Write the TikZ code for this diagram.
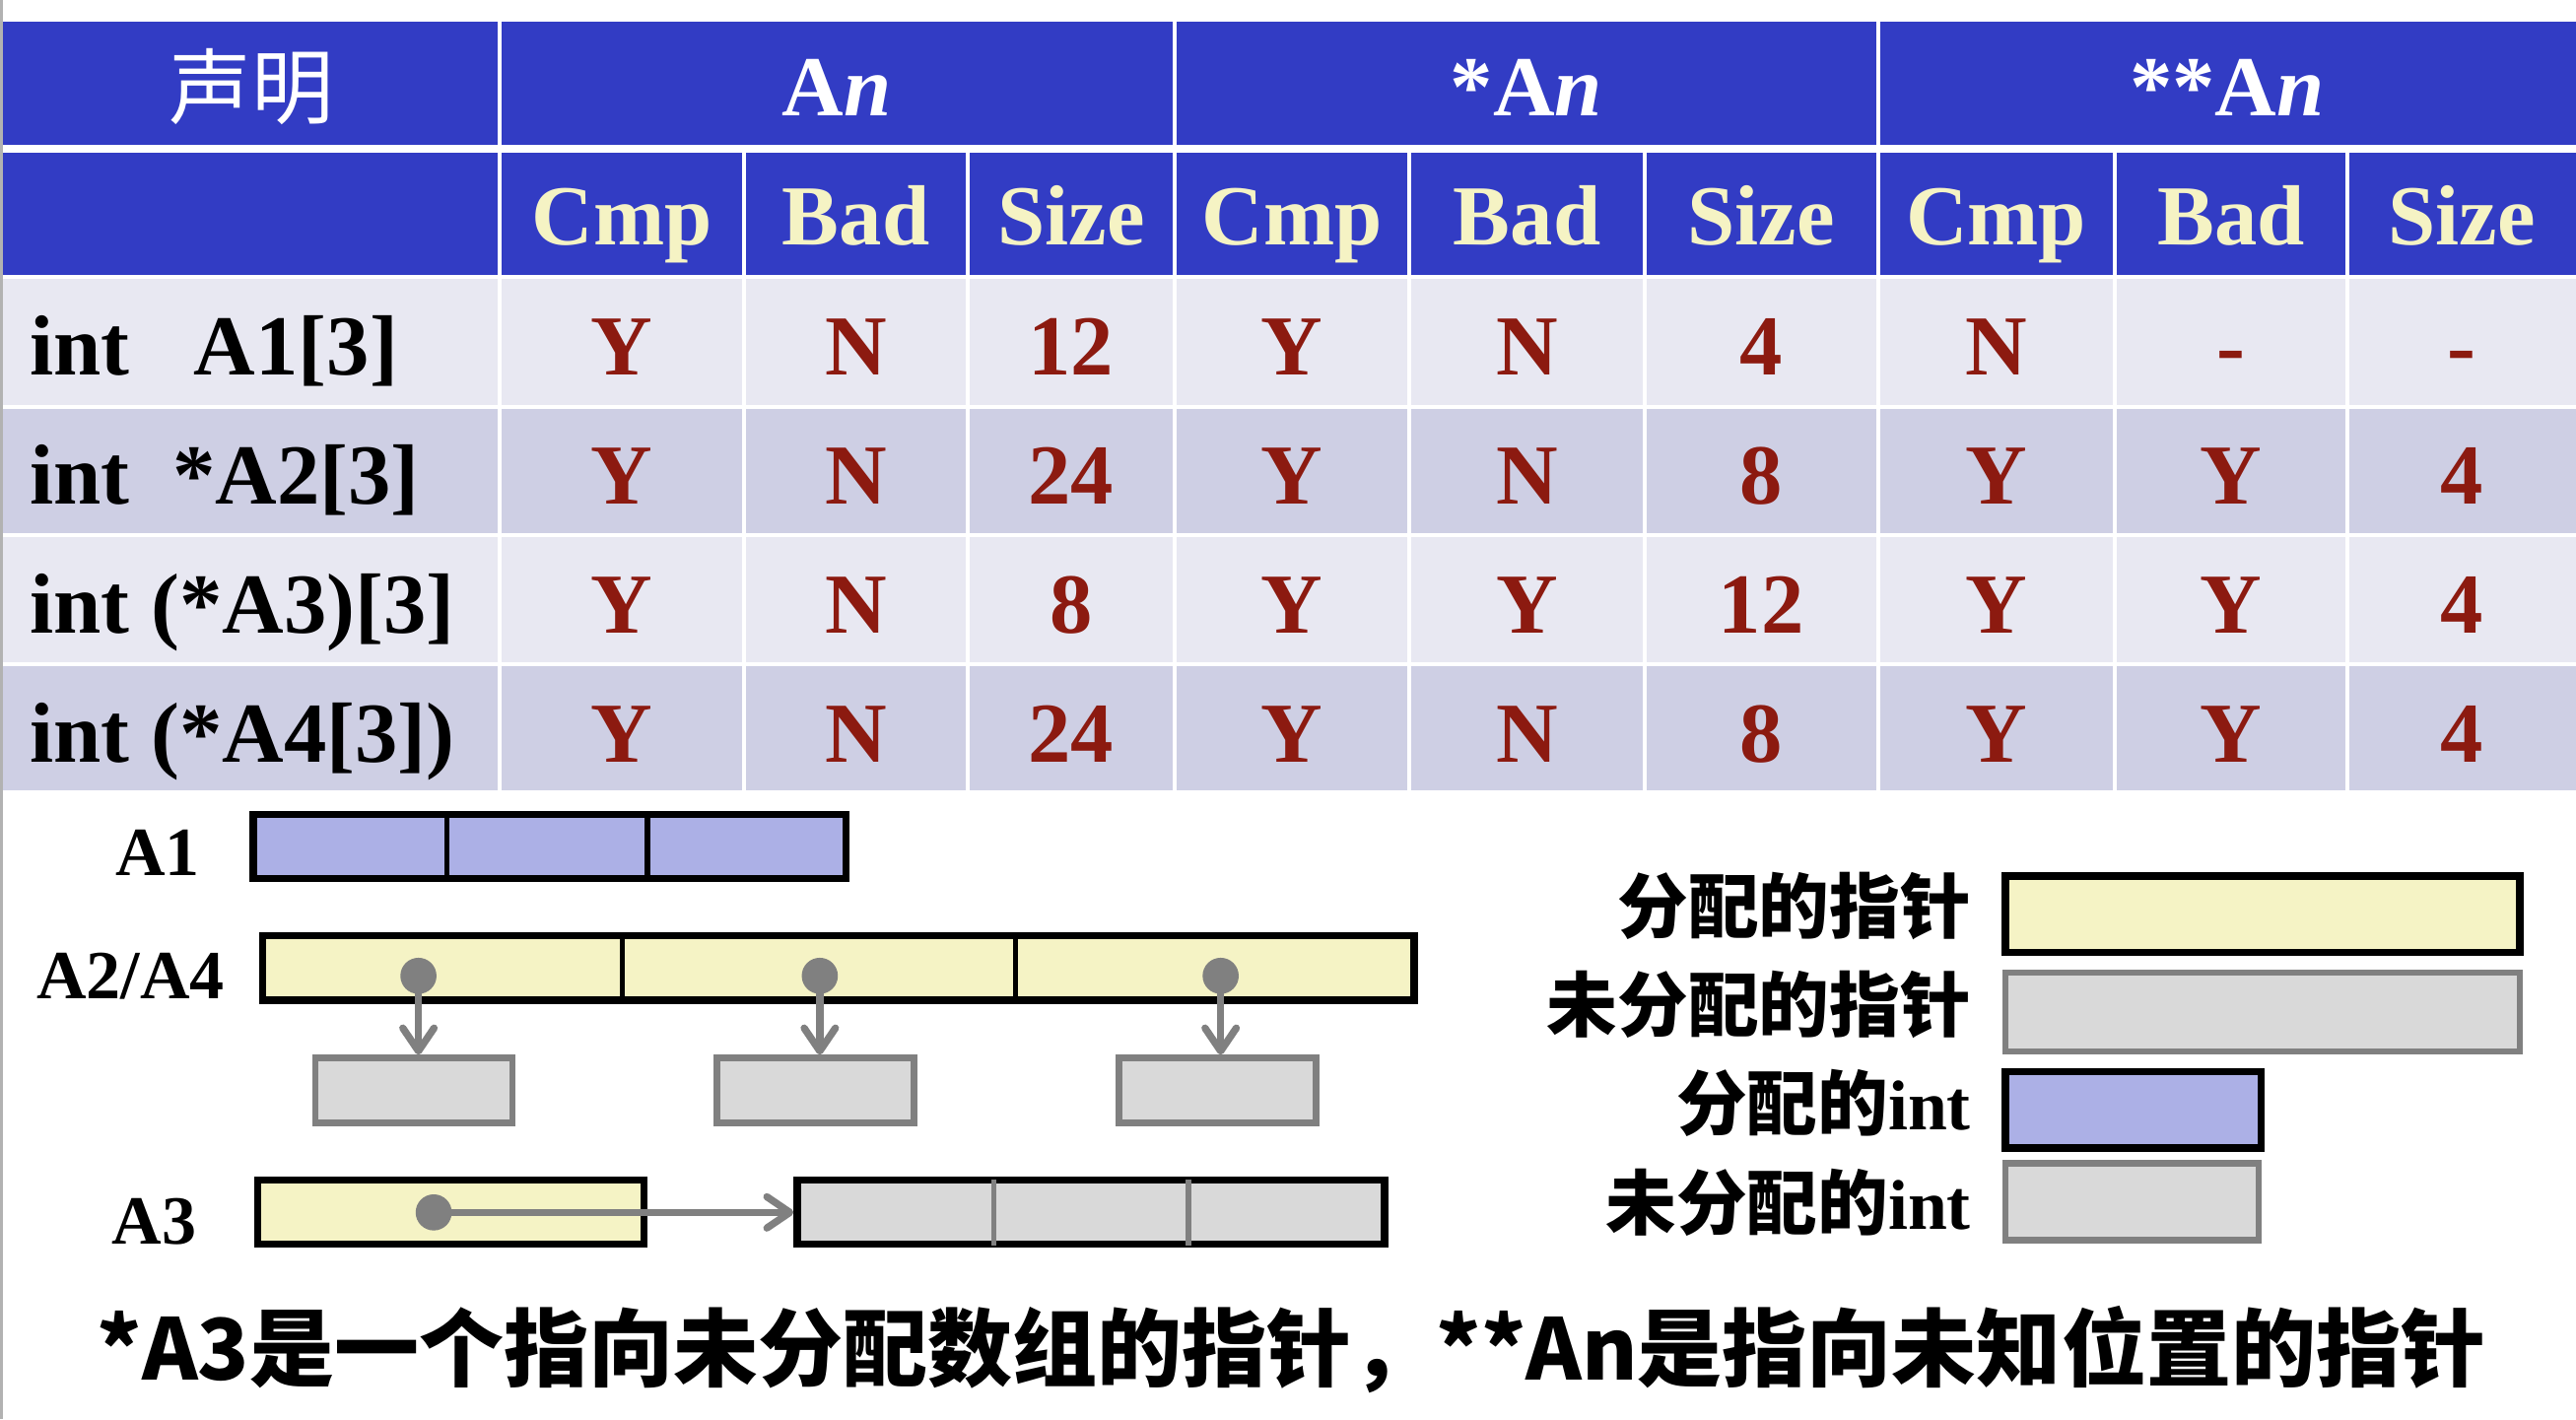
\documentclass[tikz,border=0pt]{standalone}
\usepackage{fontspec}
\setmainfont{Liberation Serif}
\newfontfamily\cjk{Noto Sans CJK SC}
\usetikzlibrary{arrows.meta}

\definecolor{hdrBlue}{RGB}{50,60,196}
\definecolor{creamText}{RGB}{245,243,196}
\definecolor{valRed}{RGB}{140,26,16}
\definecolor{rowLight}{RGB}{232,232,242}
\definecolor{rowDark}{RGB}{206,207,228}
\definecolor{intFill}{RGB}{172,176,230}
\definecolor{ptrFill}{RGB}{245,243,197}
\definecolor{freeFill}{RGB}{217,217,217}
\definecolor{freeLine}{RGB}{128,128,128}

\tikzset{
  tabtxt/.style={anchor=base, inner sep=0, font=\fontsize{26}{30}\selectfont\bfseries},
  grptxt/.style={tabtxt, text=white},
  subtxt/.style={tabtxt, text=creamText},
  valtxt/.style={tabtxt, text=valRed},
  decltxt/.style={tabtxt, anchor=base west},
  cellsep/.style={white, line width=1.2pt},
  arrbox/.style={draw=black, line width=2.2pt, inner sep=0},
  intbox/.style={arrbox, fill=intFill},
  ptrbox/.style={arrbox, fill=ptrFill},
  freebox/.style={draw=freeLine, fill=freeFill, line width=2pt, inner sep=0},
  divider/.style={line width=1.6pt},
  ptrdot/.style={circle, fill=freeLine, minimum size=11pt, inner sep=0},
  ptrline/.style={draw=freeLine, line width=2.2pt, -{Straight Barb[length=7pt,width=9.5pt,round]}},
  arrlbl/.style={anchor=base east, inner sep=0, font=\fontsize{21}{24}\selectfont\bfseries},
  keylbl/.style={anchor=base east, inner sep=0, font=\fontsize{21.5}{24}\selectfont\bfseries}
}

\begin{document}
\begin{tikzpicture}[x=0.5pt, y=-0.5pt]

    \useasboundingbox (0,0) rectangle (1568,864);
    \draw[gray!60, line width=1pt] (1,0) -- (1,864);

    % table header
    \fill[hdrBlue] (2,13) rectangle (1568,88);
    \fill[hdrBlue] (2,93) rectangle (1568,168);
    \fill[rowLight] (2,168) rectangle (1568,247.5);
    \fill[rowDark] (2,247.5) rectangle (1568,326);
    \fill[rowLight] (2,326) rectangle (1568,404.5);
    \fill[rowDark] (2,404.5) rectangle (1568,481);

    \draw[cellsep] (304,13) -- (304,88);
    \draw[cellsep] (715,13) -- (715,88);
    \draw[cellsep] (1143,13) -- (1143,88);
    \draw[cellsep] (304,93) -- (304,481);
    \draw[cellsep] (453,93) -- (453,481);
    \draw[cellsep] (589,93) -- (589,481);
    \draw[cellsep] (715,93) -- (715,481);
    \draw[cellsep] (858,93) -- (858,481);
    \draw[cellsep] (1001,93) -- (1001,481);
    \draw[cellsep] (1143,93) -- (1143,481);
    \draw[cellsep] (1287,93) -- (1287,481);
    \draw[cellsep] (1429,93) -- (1429,481);
    \draw[cellsep] (2,168.5) -- (1568,168.5);
    \draw[cellsep] (2,247.5) -- (1568,247.5);
    \draw[cellsep] (2,326) -- (1568,326);
    \draw[cellsep] (2,404.5) -- (1568,404.5);

    \node[tabtxt, anchor=center, text=white, font=\cjk\fontsize{25}{28}\selectfont] (decl) at (153,52.5) {声明};
    \node[grptxt] (grpA) at (509.5,70.4) {A\textit{n}};
    \node[grptxt] (grpB) at (929,70.4) {*A\textit{n}};
    \node[grptxt] (grpC) at (1355.5,70.4) {**A\textit{n}};

    \node[subtxt] (cmpA) at (378.5,149) {Cmp};
    \node[subtxt] (badA) at (521,149) {Bad};
    \node[subtxt] (sizeA) at (652,149) {Size};
    \node[subtxt] (cmpB) at (786.5,149) {Cmp};
    \node[subtxt] (badB) at (929.5,149) {Bad};
    \node[subtxt] (sizeB) at (1072,149) {Size};
    \node[subtxt] (cmpC) at (1215,149) {Cmp};
    \node[subtxt] (badC) at (1358,149) {Bad};
    \node[subtxt] (sizeC) at (1498.5,149) {Size};

    % declarations
    \node[decltxt] (declA) at (18,228) {int\ \ \ A1[3]};
    \node[decltxt] (declB) at (18,307) {int\ \ *A2[3]};
    \node[decltxt] (declC) at (18,385.5) {int (*A3)[3]};
    \node[decltxt] (declD) at (18,464) {int (*A4[3])};

    % values
    \node[valtxt] (v11) at (378.5,228) {Y};
    \node[valtxt] (v12) at (521,228) {N};
    \node[valtxt] (v13) at (652,228) {12};
    \node[valtxt] (v14) at (786.5,228) {Y};
    \node[valtxt] (v15) at (929.5,228) {N};
    \node[valtxt] (v16) at (1072,228) {4};
    \node[valtxt] (v17) at (1215,228) {N};
    \node[valtxt] (v18) at (1358,228) {-};
    \node[valtxt] (v19) at (1498.5,228) {-};

    \node[valtxt] (v21) at (378.5,307) {Y};
    \node[valtxt] (v22) at (521,307) {N};
    \node[valtxt] (v23) at (652,307) {24};
    \node[valtxt] (v24) at (786.5,307) {Y};
    \node[valtxt] (v25) at (929.5,307) {N};
    \node[valtxt] (v26) at (1072,307) {8};
    \node[valtxt] (v27) at (1215,307) {Y};
    \node[valtxt] (v28) at (1358,307) {Y};
    \node[valtxt] (v29) at (1498.5,307) {4};

    \node[valtxt] (v31) at (378.5,385.5) {Y};
    \node[valtxt] (v32) at (521,385.5) {N};
    \node[valtxt] (v33) at (652,385.5) {8};
    \node[valtxt] (v34) at (786.5,385.5) {Y};
    \node[valtxt] (v35) at (929.5,385.5) {Y};
    \node[valtxt] (v36) at (1072,385.5) {12};
    \node[valtxt] (v37) at (1215,385.5) {Y};
    \node[valtxt] (v38) at (1358,385.5) {Y};
    \node[valtxt] (v39) at (1498.5,385.5) {4};

    \node[valtxt] (v41) at (378.5,464) {Y};
    \node[valtxt] (v42) at (521,464) {N};
    \node[valtxt] (v43) at (652,464) {24};
    \node[valtxt] (v44) at (786.5,464) {Y};
    \node[valtxt] (v45) at (929.5,464) {N};
    \node[valtxt] (v46) at (1072,464) {8};
    \node[valtxt] (v47) at (1215,464) {Y};
    \node[valtxt] (v48) at (1358,464) {Y};
    \node[valtxt] (v49) at (1498.5,464) {4};

    % A1
    \node[arrlbl] (lblA1) at (122,533) {A1};
    \node[intbox, minimum width=180.3pt, minimum height=19.55pt] (arrA1) at (334.5,515.25) {};
    \draw[divider] (272,494) -- (272,536);
    \draw[divider] (394,494) -- (394,536);

    % A2/A4
    \node[arrlbl] (lblA2) at (137,608) {A2/A4};
    \node[ptrbox, minimum width=350.55pt, minimum height=19.55pt] (arrA2) at (510.25,589.25) {};
    \draw[divider] (378.6,568) -- (378.6,610);
    \draw[divider] (618,568) -- (618,610);
    \node[ptrdot] (p1) at (254.7,594) {};
    \node[ptrdot] (p2) at (499,594) {};
    \node[ptrdot] (p3) at (743,594) {};
    \node[freebox, minimum width=60pt, minimum height=19.75pt] (c1) at (252,663.75) {};
    \node[freebox, minimum width=60pt, minimum height=19.75pt] (c2) at (496.5,663.75) {};
    \node[freebox, minimum width=60pt, minimum height=19.75pt] (c3) at (741,663.75) {};
    \draw[ptrline] (p1.center) -- (p1.center |- c1.north);
    \draw[ptrline] (p2.center) -- (p2.center |- c2.north);
    \draw[ptrline] (p3.center) -- (p3.center |- c3.north);

    % A3
    \node[arrlbl] (lblA3) at (120,757) {A3};
    \node[ptrbox, minimum width=117.45pt, minimum height=19.55pt] (ptrA3) at (274.35,737.75) {};
    \node[arrbox, fill=freeFill, minimum width=178.8pt, minimum height=19.55pt] (arrA3) at (664,737.75) {};
    \draw[divider, freeLine] (605,718) -- (605,758);
    \draw[divider, freeLine] (723.5,718) -- (723.5,758);
    \node[ptrdot] (q) at (264,738) {};
    \draw[ptrline] (q.center) -- (q.center -| arrA3.west);

    % legend
    \node[ptrbox, minimum width=156.55pt, minimum height=23.3pt] (keyA) at (1377.25,556.5) {};
    \node[freebox, minimum width=156.55pt, minimum height=24pt] (keyB) at (1377.25,616) {};
    \node[intbox, minimum width=77.8pt, minimum height=23.3pt] (keyC) at (1298.5,675.5) {};
    \node[freebox, minimum width=77pt, minimum height=23.5pt] (keyD) at (1297.75,731.5) {};
    \node[keylbl] (keyAl) at (1200,568) {{\cjk 分配的指针}};
    \node[keylbl] (keyBl) at (1200,628) {{\cjk 未分配的指针}};
    \node[keylbl] (keyCl) at (1200,688) {{\cjk 分配的}int};
    \node[keylbl] (keyDl) at (1200,748) {{\cjk 未分配的}int};

    % note
    \node[anchor=base, inner sep=0, font=\cjk\bfseries\fontsize{25.8}{30}\selectfont] (note) at (786,840) {*A3是一个指向未分配数组的指针，**An是指向未知位置的指针};

\end{tikzpicture}
\end{document}
